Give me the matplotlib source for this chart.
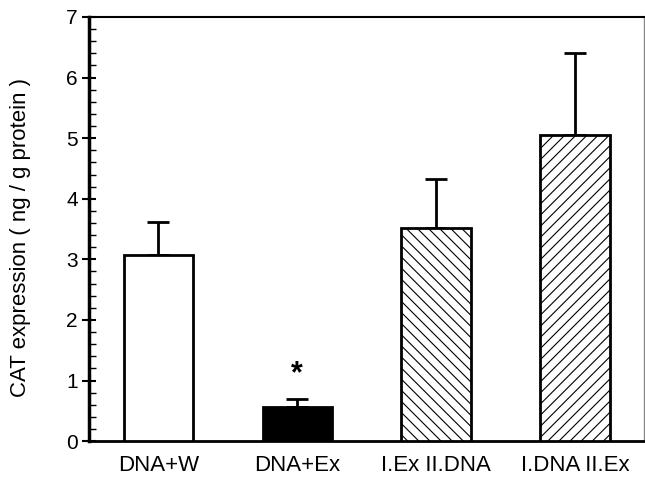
import matplotlib
matplotlib.use("Agg")
import matplotlib.pyplot as plt
from matplotlib.ticker import MultipleLocator

plt.rcParams['font.family'] = ['Liberation Sans', 'DejaVu Sans']
plt.rcParams['hatch.linewidth'] = 0.8

categories = ["DNA+W", "DNA+Ex", "I.Ex II.DNA", "I.DNA II.Ex"]
values = [3.08, 0.56, 3.51, 5.05]
err_upper = [0.53, 0.13, 0.82, 1.35]
facecolors = ["white", "black", "white", "white"]
hatches = ["", "", "\\\\\\", "///"]

fig = plt.figure(figsize=(6.45, 4.8), dpi=100)
ax = fig.add_axes([0.138, 0.081, 0.861, 0.8836])

x = list(range(len(categories)))
for i in x:
    ax.bar(i, values[i], width=0.5, color=facecolors[i], edgecolor="black",
           linewidth=2, hatch=hatches[i], zorder=3)
ax.errorbar(x, values, yerr=[[0]*4, err_upper], fmt="none", ecolor="black",
            elinewidth=2, capsize=8, capthick=2, zorder=2)

ax.text(1, values[1] + err_upper[1] + 0.42, "*", ha="center", va="center",
        fontsize=22, fontweight="bold")

ax.set_xlim(-0.5, 3.5)
ax.set_ylim(0, 7)
ax.set_xticks(x)
ax.set_xticklabels(categories, fontsize=16)
ax.tick_params(axis="x", length=0, pad=10)
ax.yaxis.set_major_locator(MultipleLocator(1))
ax.yaxis.set_minor_locator(MultipleLocator(0.2))
ax.tick_params(axis="y", which="major", direction="inout", length=10, width=1.5, labelsize=15, pad=3)
ax.tick_params(axis="y", which="minor", direction="in", length=5, width=1)
ax.set_ylabel("CAT expression ( ng / g protein )", fontsize=16, labelpad=22)
ax.yaxis.set_label_coords(-0.105, 0.48)

ax.spines["left"].set_linewidth(2.5)
ax.spines["bottom"].set_linewidth(2)
ax.spines["top"].set_linewidth(1.5)
ax.spines["right"].set_linewidth(1)
ax.spines["right"].set_color("#888888")

fig.savefig("out.png", dpi=100)
